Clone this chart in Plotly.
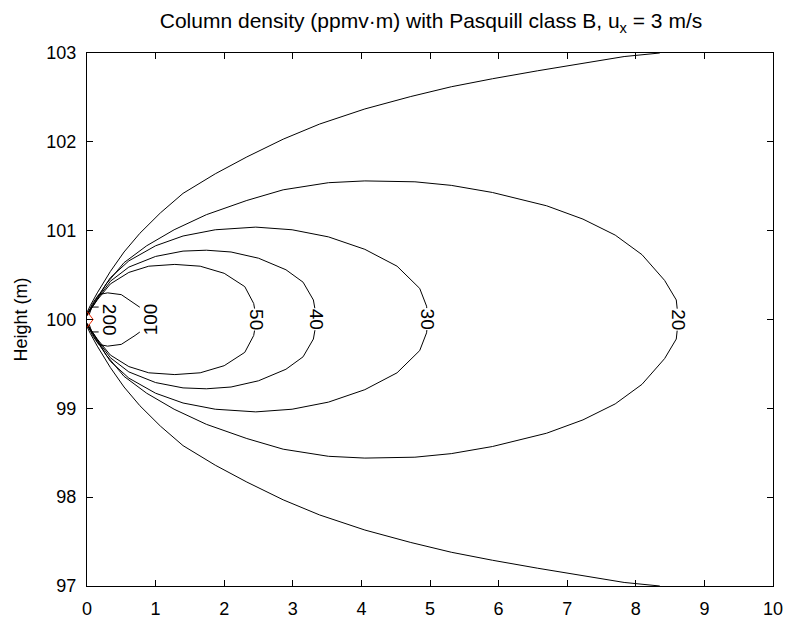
import plotly.graph_objects as go

# ---- data ----
x_ticks = [0, 1, 2, 3, 4, 5, 6, 7, 8, 9, 10]
y_ticks = [97, 98, 99, 100, 101, 102, 103]

# outermost (unlabelled) contour, leaves plot at top/bottom
c10_x   = [0.0, 0.05, 0.15, 0.34, 0.54, 0.77, 1.07, 1.40, 1.87, 2.33, 2.86, 3.39, 4.05, 4.72, 5.31, 5.91, 6.57, 7.17, 7.83, 8.35]
c10_top = [100.08, 100.16, 100.30, 100.54, 100.76, 100.97, 101.20, 101.42, 101.64, 101.83, 102.03, 102.20, 102.37, 102.51, 102.62, 102.71, 102.80, 102.88, 102.96, 103.0]
c10_bot = [99.92, 99.84, 99.70, 99.46, 99.24, 99.03, 98.80, 98.58, 98.36, 98.17, 97.97, 97.80, 97.63, 97.49, 97.38, 97.29, 97.20, 97.12, 97.04, 97.0]

c20_x   = [0.0, 0.11, 0.28, 0.54, 0.87, 1.27, 1.74, 2.33, 2.86, 3.52, 4.05, 4.78, 5.31, 5.91, 6.70, 7.23, 7.70, 8.09, 8.42, 8.59, 8.62]
c20_top = [100.07, 100.18, 100.40, 100.64, 100.83, 101.01, 101.18, 101.34, 101.46, 101.54, 101.56, 101.55, 101.51, 101.43, 101.28, 101.13, 100.95, 100.73, 100.44, 100.22, 100.0]
c20_bot = [99.93, 99.82, 99.60, 99.36, 99.17, 98.99, 98.82, 98.66, 98.54, 98.46, 98.44, 98.45, 98.49, 98.57, 98.72, 98.87, 99.05, 99.27, 99.56, 99.78, 100.0]

c30_x   = [0.0, 0.15, 0.34, 0.61, 1.0, 1.40, 1.87, 2.46, 2.99, 3.52, 4.05, 4.52, 4.85, 4.95, 4.97]
c30_top = [100.06, 100.25, 100.47, 100.66, 100.83, 100.94, 101.01, 101.04, 101.01, 100.93, 100.79, 100.60, 100.35, 100.15, 100.0]
c30_bot = [99.94, 99.75, 99.53, 99.34, 99.17, 99.06, 98.99, 98.96, 98.99, 99.07, 99.21, 99.40, 99.65, 99.85, 100.0]

c40_x   = [0.0, 0.15, 0.34, 0.61, 1.0, 1.40, 1.74, 2.10, 2.50, 2.90, 3.15, 3.30, 3.35]
c40_top = [100.05, 100.23, 100.43, 100.59, 100.71, 100.77, 100.78, 100.76, 100.69, 100.56, 100.42, 100.22, 100.0]
c40_bot = [99.95, 99.77, 99.57, 99.41, 99.29, 99.23, 99.22, 99.24, 99.31, 99.44, 99.58, 99.78, 100.0]

c50_x   = [0.0, 0.15, 0.34, 0.61, 0.90, 1.28, 1.65, 2.00, 2.30, 2.43, 2.47]
c50_top = [100.05, 100.22, 100.40, 100.53, 100.60, 100.62, 100.60, 100.52, 100.37, 100.18, 100.0]
c50_bot = [99.95, 99.78, 99.60, 99.47, 99.40, 99.38, 99.40, 99.48, 99.63, 99.82, 100.0]

c100_x   = [0.0, 0.08, 0.17, 0.30, 0.50, 0.70, 0.88, 0.93]
c100_top = [100.04, 100.18, 100.28, 100.30, 100.28, 100.18, 100.08, 100.0]
c100_bot = [99.96, 99.82, 99.72, 99.70, 99.72, 99.82, 99.92, 100.0]

c200_x   = [0.03, 0.07, 0.23, 0.32, 0.33]
c200_top = [100.05, 100.14, 100.14, 100.05, 100.0]
c200_bot = [99.95, 99.86, 99.86, 99.95, 100.0]

cred_x   = [0.0, 0.09]
cred_top = [100.09, 100.0]
cred_bot = [99.91, 100.0]

labels   = ["20", "30", "40", "50", "100", "200"]
label_x  = [8.62, 4.97, 3.35, 2.47, 0.93, 0.33]
label_y  = [100.0, 100.0, 100.0, 100.0, 100.0, 100.0]
label_rot = [90, 90, 90, 90, -90, 90]

FONT = "Liberation Sans, Arial, Helvetica, sans-serif"

fig = go.Figure()

def closed(xs, top, bot, color="black"):
    xx = list(xs) + list(reversed(xs))
    yy = list(top) + list(reversed(bot))
    fig.add_trace(go.Scatter(x=xx, y=yy, mode="lines",
                             line=dict(color=color, width=1),
                             hoverinfo="skip", showlegend=False))

def open_halves(xs, top, bot, color="black"):
    for ys in (top, bot):
        fig.add_trace(go.Scatter(x=xs, y=ys, mode="lines",
                                 line=dict(color=color, width=1),
                                 hoverinfo="skip", showlegend=False))

open_halves(c10_x, c10_top, c10_bot)
closed(c20_x, c20_top, c20_bot)
closed(c30_x, c30_top, c30_bot)
closed(c40_x, c40_top, c40_bot)
closed(c50_x, c50_top, c50_bot)
closed(c100_x, c100_top, c100_bot)
closed(c200_x, c200_top, c200_bot)
closed(cred_x, cred_top, cred_bot, color="rgb(235,40,0)")

for t, lx, ly, r in zip(labels, label_x, label_y, label_rot):
    fig.add_annotation(x=lx, y=ly, text=t, showarrow=False, textangle=r,
                       bgcolor="white", borderpad=0,
                       font=dict(family=FONT, size=19, color="black"))

# page body has an 8px default margin, so the figure is sized to fit the window
W, H = 787, 623
fig.update_layout(
    width=W, height=H,
    margin=dict(l=78, r=13, t=45, b=31),
    paper_bgcolor="white", plot_bgcolor="white",
    showlegend=False,
    title=dict(text="Column density (ppmv\u00b7m) with Pasquill class B, u<sub>x</sub> = 3 m/s",
               xref="container", x=423 / W, xanchor="center",
               yref="container", y=1 - 13 / H, yanchor="middle",
               font=dict(family=FONT, size=21, color="black")),
    font=dict(family=FONT, size=18, color="black"),
)
fig.update_xaxes(range=[0, 10], tickvals=x_ticks, ticks="inside", ticklen=6,
                 showline=True, linecolor="black", linewidth=1, mirror="ticks",
                 showgrid=False, zeroline=False, tickcolor="black",
                 ticklabelstandoff=6,
                 tickfont=dict(family=FONT, size=18))
fig.update_yaxes(range=[97, 103], tickvals=y_ticks, ticks="inside", ticklen=6,
                 showline=True, linecolor="black", linewidth=1, mirror="ticks",
                 showgrid=False, zeroline=False, tickcolor="black",
                 ticklabelstandoff=6,
                 title=dict(text="Height (m)", standoff=14, font=dict(family=FONT, size=18)),
                 tickfont=dict(family=FONT, size=18))

fig.write_html("out.html")
